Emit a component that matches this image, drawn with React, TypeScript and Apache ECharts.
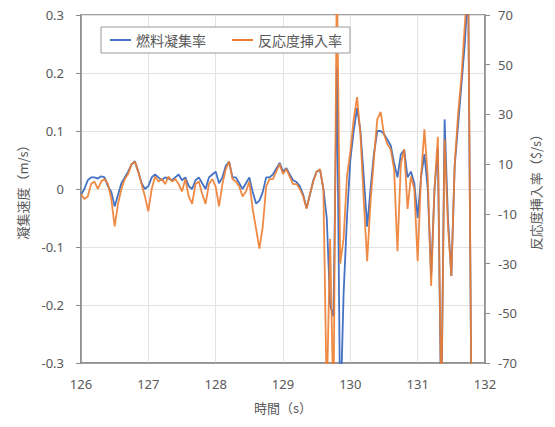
import React, { useEffect, useRef } from "react";
import * as echarts from "echarts";

const times = [
  126.0, 126.05, 126.1, 126.15, 126.2, 126.25, 126.3, 126.35, 126.4, 126.45,
  126.5, 126.55, 126.6, 126.65, 126.7, 126.75, 126.8, 126.85, 126.9, 126.95,
  127.0, 127.05, 127.1, 127.15, 127.2, 127.25, 127.3, 127.35, 127.4, 127.45,
  127.5, 127.55, 127.6, 127.65, 127.7, 127.75, 127.8, 127.85, 127.9, 127.95,
  128.0, 128.05, 128.1, 128.15, 128.2, 128.25, 128.3, 128.35, 128.4, 128.45,
  128.5, 128.55, 128.6, 128.65, 128.7, 128.75, 128.8, 128.85, 128.9, 128.95,
  129.0, 129.05, 129.1, 129.15, 129.2, 129.25, 129.3, 129.35, 129.4, 129.45,
  129.5, 129.55, 129.6, 129.65, 129.7, 129.75, 129.8, 129.85, 129.9, 129.95,
  130.0, 130.05, 130.1, 130.15, 130.2, 130.25, 130.3, 130.35, 130.4, 130.45,
  130.5, 130.55, 130.6, 130.65, 130.7, 130.75, 130.8, 130.85, 130.9, 130.95,
  131.0, 131.05, 131.1, 131.15, 131.2, 131.25, 131.3, 131.35, 131.4, 131.45,
  131.5, 131.55, 131.6, 131.65, 131.7, 131.75, 131.8,
];

// 燃料凝集率 (m/s), left axis
const fuelRate = [
  -0.01, 0.0, 0.015, 0.02, 0.02, 0.018, 0.022, 0.02, 0.005, -0.005,
  -0.03, -0.01, 0.01, 0.02, 0.03, 0.042, 0.048, 0.03, 0.01, 0.0,
  0.005, 0.02, 0.025, 0.02, 0.015, 0.02, 0.018, 0.015, 0.02, 0.025,
  0.015, 0.02, 0.005, 0.0, 0.015, 0.02, 0.01, 0.0, 0.02, 0.025,
  0.03, 0.01, 0.02, 0.04, 0.047, 0.02, 0.02, 0.01, 0.0, 0.01,
  0.02, -0.005, -0.025, -0.02, -0.005, 0.02, 0.02, 0.025, 0.035, 0.045,
  0.03, 0.036, 0.025, 0.015, 0.012, 0.005, -0.01, -0.033, -0.01, 0.015,
  0.03, 0.033, 0.0, -0.05, -0.2, -0.22, 0.21, -0.4, -0.18, -0.05,
  0.05, 0.1, 0.14, 0.1, 0.02, -0.065, 0.0, 0.06, 0.1, 0.1,
  0.095, 0.085, 0.075, 0.045, 0.02, 0.06, 0.067, 0.02, 0.03, 0.01,
  -0.05, 0.02, 0.06, 0.0, -0.15, 0.0, 0.07, -0.4, 0.12, -0.05,
  -0.15, 0.04, 0.11, 0.18, 0.25, 0.35, -0.4,
];

// 反応度挿入率 ($/s), right axis
const reactivityRate = [
  -2, -4, -3, 2, 3, 0, 3, 4, 2, -4,
  -15, -6, 0, 4, 6, 10, 11, 7, 2, -3,
  -9, 0, 5, 3, 4, 2, 5, 3, 4, 2,
  -1, 4, -3, -6, 2, 3, -2, -6, 2, 4,
  1, -7, 2, 8, 11, 4, 3, 1, -3, -1,
  3, -8, -16, -24, -15, 1, 4, 4, 7, 10,
  6, 8, 5, 2, 2, 0, -3, -8, -2, 3,
  7, 8, 0, -85, -20, -90, 90, -30, -20, 5,
  15, 28, 37, 22, -5, -29, -5, 12, 28, 31,
  22, 18, 16, 8, -25, 10, 16, -8, 5, 0,
  -29, 5, 24, 5, -39, 0, 21, -90, 20, -15,
  -35, 10, 30, 45, 66, 85, -90,
];

const seriesNames = ["燃料凝集率", "反応度挿入率"];

const FONT = "'Noto Sans', 'Noto Sans CJK JP', sans-serif";
const CJK = "'Noto Sans CJK JP', 'Noto Sans', sans-serif";

export default function App() {
  const ref = useRef<HTMLDivElement>(null);
  useEffect(() => {
    if (!ref.current) return;
    const chart = echarts.init(ref.current, undefined, { renderer: "svg" });
    const labelStyle = { color: "#595959", fontSize: 13, fontFamily: FONT };
    const nameStyle = { color: "#595959", fontSize: 13, fontFamily: CJK };
    chart.setOption({
      animation: false,
      backgroundColor: "#ffffff",
      grid: {
        left: 81,
        right: 70,
        top: 15,
        bottom: 64,
        show: true,
        borderColor: "#808080",
        borderWidth: 1.5,
        containLabel: false,
      },
      legend: {
        data: seriesNames,
        left: 101,
        top: 27,
        padding: [5, 8, 5, 9],
        itemGap: 26,
        itemWidth: 21,
        itemHeight: 2,
        icon: "rect",
        borderColor: "#9a9a9a",
        borderWidth: 1,
        backgroundColor: "#ffffff",
        textStyle: { color: "#595959", fontSize: 14, fontFamily: CJK, lineHeight: 16 },
      },
      xAxis: {
        type: "value",
        min: 126,
        max: 132,
        interval: 1,
        name: "時間（s）",
        nameLocation: "middle",
        nameGap: 38,
        nameTextStyle: nameStyle,
        axisLine: { show: true, onZero: false, lineStyle: { color: "#8c8c8c", width: 1.5 } },
        axisTick: { show: false },
        axisLabel: { ...labelStyle, margin: 14 },
        splitLine: { show: true, lineStyle: { color: "#e3e3e3", width: 1 } },
      },
      yAxis: [
        {
          type: "value",
          min: -0.3,
          max: 0.3,
          interval: 0.1,
          position: "left",
          name: "凝集速度（m/s）",
          nameLocation: "middle",
          nameRotate: 90,
          nameGap: 52,
          nameTextStyle: nameStyle,
          axisLine: { show: true, onZero: false, lineStyle: { color: "#8c8c8c", width: 1.5 } },
          axisTick: { show: true, length: 5, lineStyle: { color: "#8c8c8c" } },
          axisLabel: {
            ...labelStyle,
            margin: 17,
            formatter: (v: number) => {
              const r = Math.round(v * 10) / 10;
              return r === 0 ? "0" : String(r);
            },
          },
          splitLine: { show: true, lineStyle: { color: "#e3e3e3", width: 1 } },
        },
        {
          type: "value",
          min: -70,
          max: 70,
          interval: 20,
          position: "right",
          name: "反応度挿入率（$/s）",
          nameLocation: "middle",
          nameRotate: 90,
          nameGap: 44,
          nameTextStyle: nameStyle,
          axisLine: { show: true, onZero: false, lineStyle: { color: "#8c8c8c", width: 1.5 } },
          axisTick: { show: true, length: 5, lineStyle: { color: "#8c8c8c" } },
          axisLabel: { ...labelStyle, margin: 13 },
          splitLine: { show: false },
        },
      ],
      series: [
        {
          name: seriesNames[0],
          type: "line",
          yAxisIndex: 0,
          data: times.map((t, i) => [t, fuelRate[i]]),
          showSymbol: false,
          symbol: "none",
          clip: true,
          lineStyle: { color: "#4472C4", width: 1.8 },
          itemStyle: { color: "#4472C4" },
        },
        {
          name: seriesNames[1],
          type: "line",
          yAxisIndex: 1,
          data: times.map((t, i) => [t, reactivityRate[i]]),
          showSymbol: false,
          symbol: "none",
          clip: true,
          lineStyle: { color: "#ED7D31", width: 1.8, opacity: 0.9 },
          itemStyle: { color: "#ED7D31" },
        },
      ],
    });
    return () => chart.dispose();
  }, []);
  return (
    <div
      ref={ref}
      style={{ position: "fixed", left: 0, top: 0, width: 555, height: 427, background: "#fff" }}
    />
  );
}
